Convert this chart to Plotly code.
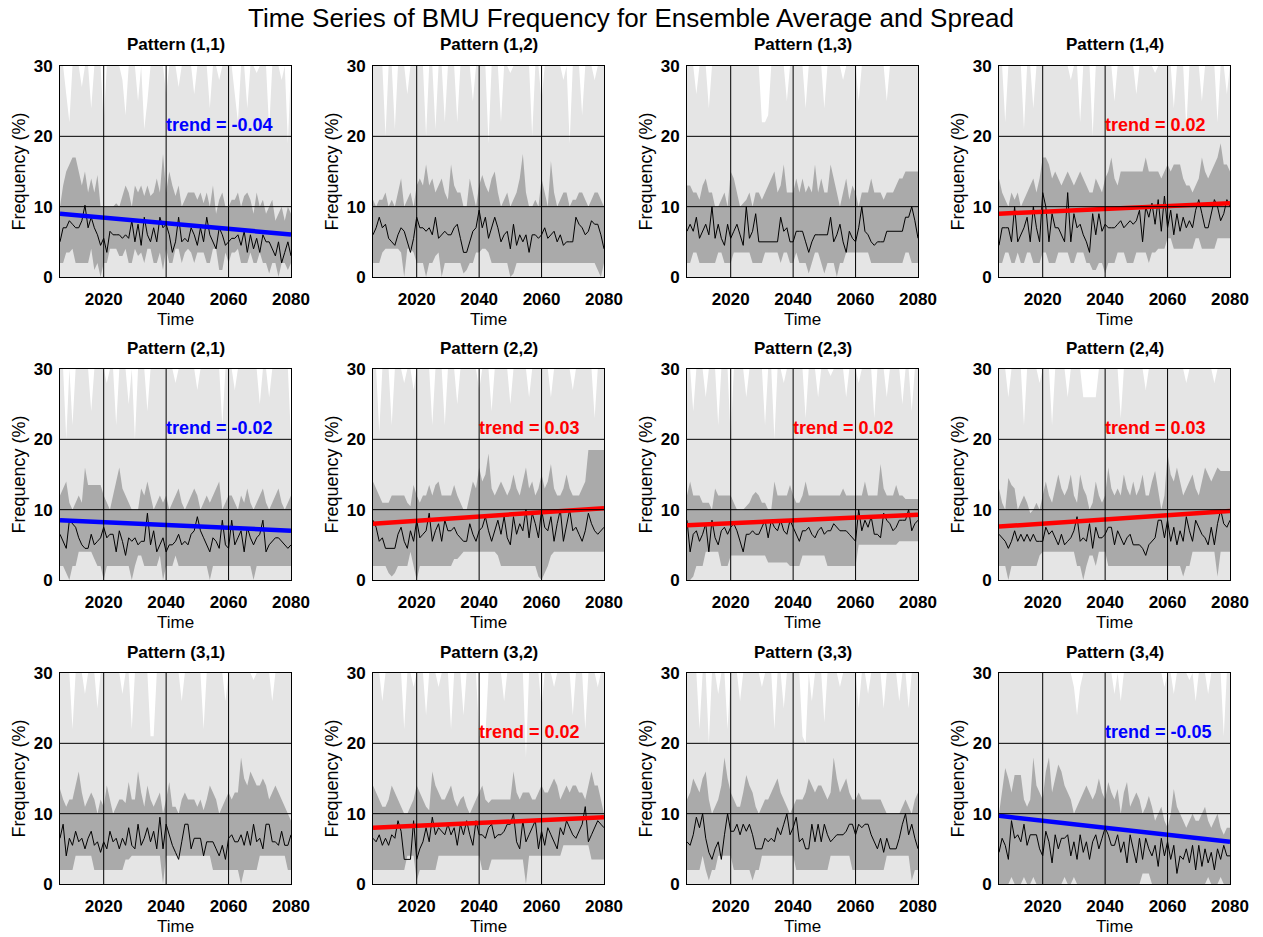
import plotly.graph_objects as go

YEARS = list(range(2006, 2081))
XTICKS = [2020, 2040, 2060, 2080]
YTICKS = [0, 10, 20, 30]

# ---------------- Pattern (1,1)
MEAN_11 = [5,7,7,8,7.5,7,7,8,10.2,7,8.5,7,6,4.5,5.5,
           3.5,6.5,6,6,6,5.5,6,5.5,8,5,7.5,4.5,8.5,6,5,
           7,5,8.5,7,7.5,6,3.5,5,8.5,5,5.5,5,7,6,4.5,
           7,5,8.5,6,5,4,7,6,4.5,5,5.5,5.5,6,4.5,6.5,
           3.5,6,4,5.5,3.5,6,5,5,4,3,5,2,3.5,5,3]
DHI_11 = [10,13,15,16,17,17,15,13,15,12,14,12,14.5,10,10,
          10,10,10,10.5,10,11.5,13,12,10,13,12,13,11.5,13,11.5,
          12,14,12,17.5,12,15,13,11.5,13,10,11,12,12,12,11,
          12,10.5,12,10,13,9,11,12,10,10,11,11,12,10,11.5,
          12,11,9,12,10,11,9,10,11,8,9,10,8,10,9]
DLO_11 = [2,2,3.5,3.5,4,2,2,2,2,2,4,1,2,0,2,
          2,4,4,4,3,3,4,2,2,4,3,3.5,2,4,4,
          2,2,3.5,1,4,2,2,4,4,2,3.5,4,3.5,2,3.5,
          3.5,3.5,2,2,4,4,1,1,3.5,2,3.5,3.5,4,2,2,
          2,3.5,2,2,3.5,2,2,0.5,2,2,0,2,2,1,2]
LHI_11 = [30,30,26,22,30,30,30,27,30,30,24,30,30,30,22,
          30,30,30,30,30,28,23,30,30,30,25,30,21,25,30,
          30,30,30,30,26,30,30,30,27,30,30,30,30,26,30,
          30,30,30,24,30,30,28,30,30,30,30,26,22,30,30,
          24,30,30,29,30,30,30,21,30,30,30,28,30,19,30]

# ---------------- Pattern (1,2)
MEAN_12 = [6,7,8.5,7,7.5,5.5,5,4.5,6,7,6.5,5,3.5,5.5,8.5,
           7,7,6.5,7,6,8.5,5.5,6,6.5,6,6,7,7.5,5.5,3.5,
           3.5,5,6.5,7,9.5,7,8.5,5.5,7,8.5,7,5,6,6.5,4,
           7.5,4.5,6,5,6,3.5,6,6,5.5,6,7,5.5,6,6.5,5,
           6,4.5,5,5,5,8.5,7.5,7,6,6.5,8,7.5,7.5,6,4]
DHI_12 = [11,10,11,11,12,10,11,10,12,14,10,11,12,10,13,
          14,13,16,13,14,12,13,14,12,11,16,13,12,12,10,
          10,14,12,10,13,14.5,13,12,14,15,12,10,11,12,10,
          11,12,14,17.5,12,10,10,11,10,14,12,10,16.5,12,10,
          11,12,12,10,11,11,12,12,11,10,11,12,12,11,10]
DLO_12 = [2,2,2,3.5,4,4,4,4,4,3.5,0,4,4,3.5,2,
          2,2,0,2,2,3,3.5,0,2,2,2,2,2,2,0.5,
          1,2,2,3.5,3.5,4,4,3.5,2,2,2,2,2,2,0,
          0.5,2,2,2,2,2,2,2,2,2,2,2,2,2,2,
          2,2,2,2,2,2,2,2,2,2,2,2,1,0,2]
LHI_12 = [30,30,30,30,20,30,30,21,30,30,30,26,30,30,30,
          30,30,20,30,30,21,30,30,22,30,30,30,22,30,30,
          30,30,25,30,30,30,30,19,30,30,30,22,30,30,29,
          30,30,30,30,30,30,20,30,30,25,30,30,30,30,30,
          30,28,30,19,30,30,30,23,30,30,30,28,30,30,30]

# ---------------- Pattern (1,3)
MEAN_13 = [6.5,7.5,6.5,8.5,5.5,6.5,7.5,6,10,5.5,7.5,5.5,4.5,7.5,5.5,
           6.5,7.5,6,4.5,10,5.5,6.5,9,5,5,5,5,5,5,5,
           8.5,6.5,7,5,5,6.5,6.5,6.5,5,3.5,5,6,6,6,6,
           6,8.5,5,6,7.5,5,3.5,6.5,5.5,5,7,10,6.5,6,5,
           4.5,5,5,5,6.5,6.5,6.5,6.5,6.5,6.5,8.5,8.5,10,8,5.5]
DHI_13 = [13,13,12,12,11,13,14,12,12,10,10,11,12,10,15,
          14,12,10,10.5,11,12,10,12,12,11,12,13,14,15,12,
          13,16,12,12,12,14,12,14,12,13,12,16,12,14,12,
          12,16,14,12,10,12,14,11,13,12,10,12,12,12,14,
          12,12,12,11,12,12,12,13,14,14,15,15,15,15,15]
DLO_13 = [2,2,3.5,3.5,2,2,2,2,2,2,3.5,3.5,2,2,2,
          3.5,3.5,3.5,3.5,3.5,3.5,2,2,2,2,3.5,3.5,3.5,3.5,3.5,
          2,3.5,3.5,2,2,3.5,2,2,2,0.5,2,3.5,3.5,2,0.5,
          2,2,2,0,2,2,3.5,3.5,3.5,3.5,3.5,3.5,3.5,3.5,2,
          2,2,2,2,2,2,2,2,2,2,3.5,3.5,2,2,2]
LHI_13 = [30,30,30,26,30,30,30,24,30,30,30,30,30,30,30,
          30,30,30,30,30,30,30,30,30,22,22,23,30,30,30,
          30,30,25,30,30,30,30,30,24,30,30,30,30,30,24,
          30,30,30,30,30,28,30,30,30,30,25,30,30,30,30,
          30,30,30,30,25,30,30,30,30,30,30,30,30,30,30]

# ---------------- Pattern (1,4)
MEAN_14 = [4.5,7,7,7,5,10,5,6,7,8.5,5,10,7,5,12,
           10,5,9,7,7,6,5,12,5,9,7,7.5,6,5,3.5,
           9,6,9,6.5,7.5,7,7,7,7.5,8,7,7.5,8,7.5,8,
           9.5,5,10,8.5,10.5,7.5,11,6.5,11.5,7,9.5,6,9,6.5,8.5,
           7,8,7,9.5,11,9,7,7,9,11,10,8,9,11,10]
DHI_14 = [14,12,11,10,12,11,12,10,11,12,13,14,12,14,17,
          17,16,14,15,14,13,14,15,14,13,14,15,14,13,12,
          12,14,13,12,14,15,17,14,13,15,15,15,15,15,15,
          15,15,17,15,15,15,15,14,15,16,15,16,16,16,14,
          13,13,12,13,14,17,15,14,15,16,17,19,16,16,15]
DLO_14 = [2,2,3.5,3.5,2,2,3.5,2,2,3.5,3.5,2,2,2,3.5,
          3.5,2,2,2,3.5,3.5,3.5,3.5,2,2,3.5,3.5,3.5,2,2,
          1,1,2,2,0.5,2,2,2,3.5,3.5,3.5,2,2,2,3.5,
          3.5,3.5,3.5,2,3.5,3.5,4,4,4,5.5,5.5,4,4,4,4,
          4,4,4,5.5,5.5,4,4,4,4,4,5.5,5.5,5.5,5.5,5.5]
LHI_14 = [30,30,22,30,30,30,30,30,21,30,30,24,30,30,30,
          30,30,30,30,30,30,30,30,28,30,30,22,30,30,30,
          20,30,30,30,30,30,30,25,30,30,30,30,30,30,26,
          30,30,30,30,30,29,30,30,30,30,30,24,30,30,30,
          21,30,30,30,30,25,30,30,30,30,22,30,30,26,30]

# ---------------- Pattern (2,1)
MEAN_21 = [6.5,5.5,4.5,8.5,8,7.5,6,5,4.5,4.5,6.5,5,5.5,6,7.5,
           6,6.5,6.5,4,7,5.5,3.5,6,5.5,6,5,5.5,5.5,9.5,5,
           7,4,5,6,4,5,5,5.5,6.5,5,5.5,5,6.5,7,9,
           7,6,5,4,6,5.5,4.5,8.5,5,4.5,8.5,5,6,7,4,
           7.5,6,5,6,6.5,8.5,4,5,5.5,6,6,5.5,5,4.5,5]
DHI_21 = [12,13,14,11,10,11,12,11,16,13.5,13.5,13.5,13.5,13.5,12,
          11,10,12,14,16,13,12,11,10,10,10,13,12,14,12,
          10,11,12,11,12,10,11,12,13,11,10,11,12,13,12,
          10,11,12,11,12,13,14,10,11,12,12,11,10,12,11,
          13,11,10,11,12,13,11,10,11,12,13,11,10,11,12]
DLO_21 = [2,2,1,0,2,2,4,4,4,4,4,3,2,2,0,
          2,2,2,2,2,2,2,2,0,2,3.5,3.5,2,2,2,
          2,2,3.5,0,2,2,2,3.5,2,2,2,2,2,2,2,
          2,2,2,0,2,2,2,2,2,2,2,2,2,2,2,
          2,2,0,2,2,2,2,2,2,2,2,2,2,2,2]
LHI_21 = [30,30,20,30,22,30,30,30,30,30,24,30,30,30,30,
          28,30,30,22,30,30,30,25,30,20,30,30,30,24,30,
          30,30,30,30,30,30,30,28,30,30,30,30,30,30,27,
          30,30,30,30,30,30,30,22,30,30,30,27,30,30,30,
          30,30,30,30,25,30,30,26,30,30,30,30,30,30,20]

# ---------------- Pattern (2,2)
MEAN_22 = [8.5,7.5,5.5,6,4.5,4.5,4.5,4.5,6.5,7.5,5.5,4.5,7,5.5,8.5,
           6,6.5,7,9.5,5.5,7,8,5.5,8.5,7,7,7.5,6.5,6,5.5,
           5.5,8,6.5,5.5,7,7.5,9,7,5.5,7,8.5,6.5,9,6,5,
           9,6.5,8,7,10,6,9.5,8,6,10,7.5,7,9,5.5,8,
           10,5.5,8,10,7,7.5,6.5,5.5,7,9.5,8,7,6.5,7,7.5]
DHI_22 = [14,13,12,11,11,11,12,12,12,12,12,11,10.5,13.5,12,
          11,12,12,13.5,12,13.5,14,12,12,12,12,13.5,12,11,10,
          10,12,14,13,16,14,15,18,13,12,13,14,13,12,13,
          15,13,12,14,16,13,14,12,13,15,13,14,16.5,13,12,
          12,13,15,13,12,12,12,13,14,18.5,18.5,18.5,18.5,18.5,18.5]
DLO_22 = [2,2,2,2,2,1,0.5,1,2,2,2,2,4,2,0,
          2,2,2,2,2,2,2,2,2,2,2,3,3,3.5,4,
          4,4,4,4,4,4,4,4,4,4,3.5,2,2,2,2,
          2,2,2,2,2,2,2,2,0.5,0,1,2,3.5,4,4,
          4,4,4,4,4,4,4,4,4,4,4,4,4,4,4]
LHI_22 = [30,30,21,30,30,30,22,30,30,30,28,30,30,27,30,
          30,30,30,30,22,30,30,30,22,30,30,30,25,30,30,
          30,30,30,30,27,30,30,30,24,30,30,30,30,30,25,
          30,30,30,30,30,26,30,30,30,30,30,30,26,30,30,
          30,30,30,30,27,30,30,30,30,30,30,23,30,30,30]

# ---------------- Pattern (2,3)
MEAN_23 = [8.5,4,6.5,7,5.5,6.5,8,4,8.5,6,5,7,7.5,6.5,7.5,
           8,7,5.5,4,6.5,6.5,7,6.5,6.5,7.5,8.5,6,8.5,7.5,7,
           8.5,7,6.5,8.5,7.5,6.5,5.5,7,7,7.5,6.5,6,7,7.5,6.5,
           7,7,8,7.5,7,7,7,6.5,6,5.5,10,7,8.5,7.5,9,
           6.5,6.5,6,9.5,8.5,8,7,7.5,8.5,8.5,8.5,10,7,8,8.5]
DHI_23 = [12,14,12,12,12,11,11,11,10,13,12,12,12,12,12,
          11,10,10,10,10.5,11,12,12.5,12,11,11,10,10,14,12,
          12,12,12,13.5,12,11,11,12,14,12,12,12,12,12,12,
          12,12,12,12,12,13,12,12,12,12,12,12,14,12,12,
          12,12,16.5,13,12,12,12,13.5,12,12,11.5,11.5,11.5,11.5,11.5]
DLO_23 = [0,0,0.5,2,2,2,4,4,4,4,4,2,2,2,3.5,
          3.5,3.5,3.5,3.5,3.5,3.5,3.5,3.5,3.5,3.5,3.5,2.5,2.5,2.5,2.5,
          2.5,2.5,2.5,2,2,2,2,3.5,3.5,3.5,3.5,3.5,3.5,3.5,3.5,
          2,2,2,2,2,2,2,2,2,2,5,5,5,5,5,
          5,5,5,5,5,5,5,5,5.5,5.5,5.5,5.5,5.5,5.5,5.5]
LHI_23 = [30,30,24,30,30,30,26,30,30,30,22,30,30,30,20,
          30,30,30,30,26,30,30,30,30,30,22,30,30,20,30,
          30,28,30,30,30,30,30,30,23,30,30,30,26,30,30,
          30,29,30,30,30,30,26,30,30,30,28,30,30,30,30,
          23,30,30,30,26,30,30,30,30,25,30,30,24,30,30]

# ---------------- Pattern (2,4)
MEAN_24 = [6.5,6,5.5,4.5,5.5,7,5.5,6.5,5.5,6.5,5.5,6.5,5.5,5.5,5.5,
           7.5,6.5,7,6,5,6.5,5,5.5,6,7,9,5.5,6,5.5,8,
           4.5,7.5,6,6,6.5,7.5,7.5,5,7,6,5,6,6.5,5,5,
           5,4.5,3.5,5,5.5,6,8.5,8.5,6,8.5,5.5,7.5,5,7,5.5,
           9,7,5.5,8.5,7.5,6.5,6,5,7.5,5,8,10,8,7.5,8.5]
DHI_24 = [13,11,10,14.5,13.5,13,10,11,12,11,9.5,10,11,10,12,
          14,12,11,13,15,13,12,13,15,12,11,15,13,12,10,
          11,14,12,11,12,16,13,12,13,12,15,13,12,14,12,
          13,15,12,12,14,15.5,13,10,12,18,15,14,16,14,12,
          13,14,15,13,12,14,16,15,14,15,16,15.5,15.5,15.5,15.5]
DLO_24 = [2,2,2,0,2,2,2,2,2,2,2,2,2,3.5,4,
          4,4,4,4,4,4,4,4,4,4,2,2,0,2,3.5,
          3.5,2,4,4,4,2,2,2,2,2,2,2,2,2,2,
          2,2,2,2,2,2,2,2,2,2,2,2,2,2,0.5,
          2,2,4,4,4,4,4,4,4,4,0.5,4,4,4,4]
LHI_24 = [30,30,30,26,30,30,30,30,22,30,30,30,30,28,30,
          30,30,22,30,30,30,30,26,30,30,30,30,26,26,26,
          26,26,30,30,30,30,30,30,30,23,30,30,30,30,30,
          30,30,27,30,30,30,30,30,30,30,30,30,30,30,30,
          28,30,30,30,30,30,30,30,30,28,30,30,30,30,30]

# ---------------- Pattern (3,1)
MEAN_31 = [6.5,8.5,4,6.5,5.5,7.5,6,6.5,5,6.5,7.5,5.5,6,4.5,6,
           5,7.5,6,6.5,5,6.5,5.5,8,5.5,5,8.5,5.5,6.5,8,6,
           7.5,5,9.5,5,8.5,7,5.5,4.5,3.5,6,8.5,8.5,5,6.5,6.5,
           6.5,4,6,6,6,5,4,5.5,3.5,6.5,7,6,6,7,5.5,
           7.5,5.5,8.5,6,6.5,5,8.5,8.5,6,6,5.5,7.5,5.5,5.5,7]
DHI_31 = [13.5,12,11,12,12,14,16,13,11,12,13,12,10,12,11,
          14,12,10,11,12,12,11.5,14.5,12,12,16,13,11,14,12,
          11,12,13,10,12,14.5,11,11,10,12,13,12,12,12,11,
          12,10.5,12,14,13,12,10,11,12,13,12,13,13,18,15,
          14,16,15,14,14,15,14,12,13,14,13,12,11,10,9]
DLO_31 = [2,2,2,2,2,4,4,4,4,4,4,2,2,2,2,
          2,2,2,2,2,2,3.5,3.5,4,4,4,4,4,4,4,
          4,4,4,0,4,4,4,4,4,4,4,4,4,4,4,
          4,4,4,4,2,2,2,2,2,2,2,2,2,0,2,
          2,2,2,2,4,4,4,4,4,4,4,4,4,2,2]
LHI_31 = [30,30,30,30,22,30,30,30,27,30,30,30,25,30,30,
          30,30,30,30,30,27,30,30,22,30,30,30,30,30,21,
          21,30,30,30,30,30,30,30,30,26,30,30,30,30,30,
          30,22,30,30,30,30,30,30,26,30,30,30,30,30,30,
          30,30,29,30,30,30,30,30,26,30,30,30,30,30,30]

# ---------------- Pattern (3,2)
MEAN_32 = [6.5,6,7,5.5,6.5,5.5,7,6.5,9,7.5,3.5,3.5,3.5,9,3.5,
           5,6,8,6,9.5,7,8,7.5,7,8.5,7,8,5.5,8.5,7,
           9,7,5.5,9,7,7,6.5,8,8.5,6.5,7,7,7.5,8.5,8.5,
           10,6,5,9,6,7,8,9,5,7.5,5.5,8,7,6,5,
           8,7,9,8,7,6.5,7.5,8.5,11,6,7,8,9,8.5,8]
DHI_32 = [14,13,12,11,11,12,14,13,12,11,10,10,11,12,14,
          13,12,11,10.5,16,14,13,12,12,13,14,12,11,12,12.5,
          11,10,11,12,13,14,12,11.5,12,12,12,12,12,12,12,
          16,13,12,13,13,13,12,12,13,14,13,13,14,15,14,
          12,13,14,13,14,14,13,13,12,14,16,14,14,12,10]
DLO_32 = [2,2,2,2,2,2,2,2,2,2,2,4,4,4,0.5,
          2,2,2,2,2,2,4,4,4,4,4,4,4,4,4,
          4,4,4,4,4,2,2,2,3.5,3.5,3.5,3.5,3.5,3.5,3.5,
          3.5,3.5,3.5,3.5,0,4,4,4,4,4,4,4,4,4,4,
          4,5.5,5.5,5.5,5.5,5.5,5.5,5.5,5.5,5.5,3.5,3.5,3.5,3.5,3.5]
LHI_32 = [30,30,30,26,30,30,30,30,30,30,22,30,30,28,30,
          30,30,24,30,30,30,28,30,30,30,22,30,30,30,24,
          30,30,30,30,21,21,21,30,30,30,30,30,26,30,30,
          30,30,30,30,18,30,30,30,30,25,30,30,30,28,30,
          30,30,30,30,24,30,30,30,22,30,30,30,28,30,30]

# ---------------- Pattern (3,3)
MEAN_33 = [6,5.5,7,9.5,8,10,6.5,4.5,3.5,5,6,3.5,7,10,7.5,
           7.5,8.5,7,8.5,7.5,8.5,7,5,5,5,6.5,6,6.5,6,8,
           7,8.5,10,7,8,9.5,6,6.5,5,5,8.5,6,8.5,6,8.5,
           7,6,6.5,7,7,7,7.5,8.5,8.5,7,8.5,8,8.5,8.5,7,
           6,5,6.5,4.5,6.5,5,5,5,6.5,8.5,10,7,8.5,6.5,5]
DHI_33 = [12,13,15,14,13,15,16,12,10,11,12,14,18,15,13,
          12,11,11,13,15.5,14,13,11,10,11,12,12,13,14,15,
          13,12,11,10,11,12,12,12,13,15,14,13,14,14,13,
          12,13,18,15,13,14,15,13,12,12,13,12,12,12,12,
          12,12,12,11,10,10,10,10,10,11,12,11,10,12,13]
DLO_33 = [2,2,2,2,2,4,2,0.5,2,2,4,4,4,4,4,
          2,2,2,2,2,2,0.5,2,2,4,4,4,4,4,4,
          4,4,4,4,4,2,2,2,2,2,2,2,2,2,2,
          2,4,4,4,4,4,4,4,2,2,2,2,2,2,2,
          2,2,2,2,4,4,4,4,4,4,4,4,0.5,2,2]
LHI_33 = [30,30,30,30,22,30,30,20,30,30,27,30,30,22,30,
          30,30,26,30,30,30,30,30,30,28,30,30,30,22,30,
          30,25,30,30,30,30,30,21,20,30,26,30,30,30,23,
          30,30,30,30,28,30,30,30,30,30,25,30,30,27,30,
          30,30,30,25,30,30,30,30,26,30,30,25,30,30,30]

# ---------------- Pattern (3,4)
MEAN_34 = [4.5,6.5,5.5,3.5,9,6.5,7,6,8.5,5.5,7,7,7,5,4,
           7.5,6,3,7,5,6.5,6.5,7,4,6,3.5,7,4.5,6,3.5,
           6,7,5,6.5,8,7,5.5,5.5,7,4.5,6,3,7,5,3,
           6.5,3.5,6.5,5,4,5.5,2.5,6.5,4,6,3.5,5.5,1.5,4,3.5,
           5,3,5.5,2,5.5,2.5,5,3,4.5,2,5,3.5,5.5,4,4]
DHI_34 = [10,13,16.5,15,13,15.5,15.5,15.5,12,11,12,18,14,13,12,
          16,18,13,15,17,16,14,13,12,10,11,12,13,14,13,
          12,13,15,13,12,14.5,13,12,13.5,10,13,14.5,11,12,13,
          12,10,11,12.5,11,9,10,11,9,8,10,13.5,11,10,9,
          8,9,10,9,9,10,11,9,8,9,10,8,7,8,8]
DLO_34 = [0,0,0,0,1,0,0,0,1,0,0,1,0,0,0,
          0,0,0,0,0,0,1,0,0,1,0,0,0,0,0,
          0,0,0,0,0,0,0,0,0,0,0,0,0,0,0,
          0,1.5,1.5,1.5,0,0,0,0,0,0,0,0,0,0,0,
          0,0,0,0,0,0,0,1,0,0,0,1,0,0,0]
LHI_34 = [30,30,30,30,30,30,30,30,30,30,30,30,30,30,30,
          30,30,30,30,30,30,30,30,30,28,24,28,30,30,30,
          30,30,30,30,30,30,30,27,30,26,30,30,30,30,30,
          30,30,30,30,30,30,30,30,28,30,30,27,30,30,30,
          30,29,30,26,30,30,30,27,30,30,30,30,21,30,30]

TITLES = ["Pattern (1,1)", "Pattern (1,2)", "Pattern (1,3)", "Pattern (1,4)",
          "Pattern (2,1)", "Pattern (2,2)", "Pattern (2,3)", "Pattern (2,4)",
          "Pattern (3,1)", "Pattern (3,2)", "Pattern (3,3)", "Pattern (3,4)"]
MEANS = [MEAN_11, MEAN_12, MEAN_13, MEAN_14, MEAN_21, MEAN_22, MEAN_23, MEAN_24,
         MEAN_31, MEAN_32, MEAN_33, MEAN_34]
DHIS = [DHI_11, DHI_12, DHI_13, DHI_14, DHI_21, DHI_22, DHI_23, DHI_24,
        DHI_31, DHI_32, DHI_33, DHI_34]
DLOS = [DLO_11, DLO_12, DLO_13, DLO_14, DLO_21, DLO_22, DLO_23, DLO_24,
        DLO_31, DLO_32, DLO_33, DLO_34]
LHIS = [LHI_11, LHI_12, LHI_13, LHI_14, LHI_21, LHI_22, LHI_23, LHI_24,
        LHI_31, LHI_32, LHI_33, LHI_34]
# trend per year and fitted value at the first year (None = no trend shown)
TREND_SLOPE = [-0.04, None, None, 0.02, -0.02, 0.03, 0.02, 0.03, None, 0.02, None, -0.05]
TREND_START = [9.0, None, None, 9.0, 8.5, 8.0, 7.8, 7.6, None, 8.0, None, 9.7]

W, H = 1263, 937
COL_PX = [(60, 291), (373, 604), (687, 918), (999, 1230)]
ROW_PX = [(66, 277), (369, 580), (673, 884)]

LIGHT = "#e5e5e5"
DARK = "#aaaaaa"
FONT = "Liberation Sans, Arial, sans-serif"

fig = go.Figure()
layout = dict(width=W, height=H, margin=dict(l=0, r=0, t=0, b=0, pad=0),
              paper_bgcolor="white", plot_bgcolor="white", showlegend=False,
              hovermode=False, font=dict(family=FONT, color="black"))
annotations = []
shapes = []

for i in range(12):
    r, c = divmod(i, 4)
    n = "" if i == 0 else str(i + 1)
    xa, ya = "x" + n, "y" + n
    x0, x1 = COL_PX[c]
    yt, yb = ROW_PX[r]
    xdom = [x0 / W, x1 / W]
    ydom = [1 - yb / H, 1 - yt / H]
    common = dict(showgrid=False, zeroline=False, showline=True, mirror=True,
                  linecolor="black", linewidth=1, layer="above traces",
                  automargin=False, ticks="",
                  tickfont=dict(size=17, weight="bold", family=FONT))
    layout["xaxis" + n] = dict(domain=xdom, anchor=ya, range=[YEARS[0], YEARS[-1]],
                               tickvals=XTICKS, ticklabelstandoff=7, **common)
    layout["yaxis" + n] = dict(domain=ydom, anchor=xa, range=[YTICKS[0], YTICKS[-1]],
                               tickvals=YTICKS, ticklabelstandoff=3, **common)

    fig.add_trace(go.Scatter(x=YEARS, y=LHIS[i], xaxis=xa, yaxis=ya, mode="lines",
                             line=dict(width=0), fill="tozeroy", fillcolor=LIGHT))
    fig.add_trace(go.Scatter(x=YEARS, y=DLOS[i], xaxis=xa, yaxis=ya, mode="lines",
                             line=dict(width=0)))
    fig.add_trace(go.Scatter(x=YEARS, y=DHIS[i], xaxis=xa, yaxis=ya, mode="lines",
                             line=dict(width=0), fill="tonexty", fillcolor=DARK))
    fig.add_trace(go.Scatter(x=YEARS, y=MEANS[i], xaxis=xa, yaxis=ya, mode="lines",
                             line=dict(color="black", width=1)))

    # grid lines drawn above the bands
    for xv in XTICKS[:-1]:
        shapes.append(dict(type="line", xref=xa, yref=ya + " domain", x0=xv, x1=xv,
                           y0=0, y1=1, layer="above", line=dict(color="black", width=1)))
    for yv in YTICKS[1:-1]:
        shapes.append(dict(type="line", xref=xa + " domain", yref=ya, x0=0, x1=1,
                           y0=yv, y1=yv, layer="above", line=dict(color="black", width=1)))

    if TREND_SLOPE[i] is not None:
        s, b = TREND_SLOPE[i], TREND_START[i]
        col = "#0000ff" if s < 0 else "#ff0000"
        ty = [b + s * (yr - YEARS[0]) for yr in YEARS]
        fig.add_trace(go.Scatter(x=YEARS, y=ty, xaxis=xa, yaxis=ya, mode="lines",
                                 line=dict(color=col, width=4.5)))
        annotations.append(dict(xref=xa, yref=ya, x=2040, y=21.6, xanchor="left",
                                yanchor="middle", showarrow=False, xshift=-2,
                                text=f"trend = {s:.2f}",
                                font=dict(size=18, color=col, weight="bold", family=FONT)))

    # panel title
    annotations.append(dict(xref="paper", yref="paper", x=(x0 + x1) / 2 / W,
                            y=1 - (yt - 21) / H, xanchor="center", yanchor="middle",
                            showarrow=False, text=TITLES[i],
                            font=dict(size=17, weight="bold", family=FONT)))
    # axis titles
    annotations.append(dict(xref="paper", yref="paper", x=(x0 + x1) / 2 / W,
                            y=1 - (yb + 42) / H, xanchor="center", yanchor="middle",
                            showarrow=False, text="Time", font=dict(size=17, family=FONT)))
    annotations.append(dict(xref="paper", yref="paper", x=(x0 - 42) / W,
                            y=1 - (yt + yb) / 2 / H, xanchor="center", yanchor="middle",
                            showarrow=False, text="Frequency (%)", textangle=-90,
                            font=dict(size=18, family=FONT)))

annotations.append(dict(xref="paper", yref="paper", x=631 / W, y=1 - 18 / H,
                        xanchor="center", yanchor="middle", showarrow=False,
                        text="Time Series of BMU Frequency for Ensemble Average and Spread",
                        font=dict(size=26, family=FONT)))

layout["annotations"] = annotations
layout["shapes"] = shapes
fig.update_layout(**layout)
fig.write_html("out.html", config={"displayModeBar": False, "staticPlot": True},
               post_script="document.body.style.margin='0px';"
                           "document.body.style.overflow='hidden';")
